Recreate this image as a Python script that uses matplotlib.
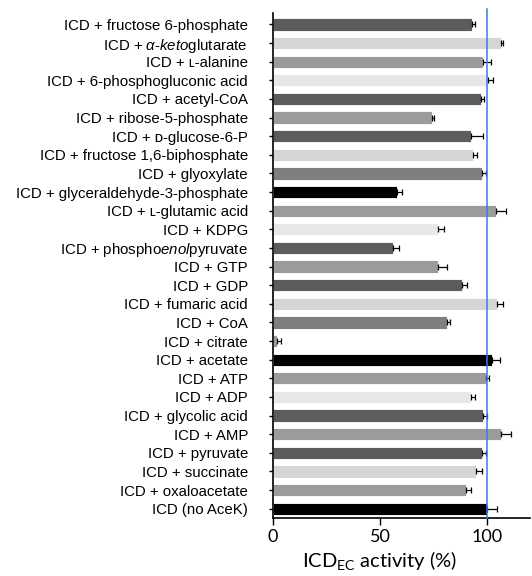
import matplotlib
matplotlib.use("Agg")
import matplotlib.pyplot as plt
import numpy as np

plt.rcParams['font.family'] = ['Liberation Sans', 'DejaVu Sans']
plt.rcParams['mathtext.fontset'] = 'custom'
plt.rcParams['mathtext.rm'] = 'Liberation Sans'
plt.rcParams['mathtext.it'] = 'Liberation Sans:italic'

labels = [
    "ICD + fructose 6-phosphate",
    r"ICD + $\alpha$-$\it{keto}$glutarate",
    "ICD + \u029F-alanine",
    "ICD + 6-phosphogluconic acid",
    "ICD + acetyl-CoA",
    "ICD + ribose-5-phosphate",
    "ICD + \u1D05-glucose-6-P",
    "ICD + fructose 1,6-biphosphate",
    "ICD + glyoxylate",
    "ICD + glyceraldehyde-3-phosphate",
    "ICD + \u029F-glutamic acid",
    "ICD + KDPG",
    r"ICD + phospho$\it{enol}$pyruvate",
    "ICD + GTP",
    "ICD + GDP",
    "ICD + fumaric acid",
    "ICD + CoA",
    "ICD + citrate",
    "ICD + acetate",
    "ICD + ATP",
    "ICD + ADP",
    "ICD + glycolic acid",
    "ICD + AMP",
    "ICD + pyruvate",
    "ICD + succinate",
    "ICD + oxaloacetate",
    "ICD (no AceK)",
]
values = [93.2, 106.4, 98.3, 100.5, 97.1, 74.3, 92.7, 93.5, 97.5, 58.0,
          104.3, 76.9, 56.0, 77.2, 88.5, 104.8, 81.2, 2.0, 102.5, 99.7,
          92.4, 98.1, 106.7, 97.8, 94.7, 90.4, 100.0]
errors = [1.0, 1.0, 3.7, 2.4, 1.5, 1.0, 5.4, 1.7, 1.9, 2.3,
          4.7, 2.9, 3.1, 4.3, 2.0, 2.6, 1.6, 2.0, 3.4, 1.0,
          1.9, 1.7, 4.6, 1.6, 3.1, 2.0, 4.5]

DARK, LIGHT, MED, VLIGHT, MDARK, BLACK = "#5c5c5c", "#d5d5d5", "#9b9b9b", "#e7e7e7", "#7f7f7f", "#000000"
colors = [DARK, LIGHT, MED, VLIGHT, DARK, MED, DARK, LIGHT, MDARK, BLACK,
          MED, VLIGHT, DARK, MED, DARK, LIGHT, MDARK, MED, BLACK, MED,
          VLIGHT, DARK, MED, DARK, LIGHT, MED, BLACK]

n = len(labels)
y = np.arange(n)[::-1]

fig = plt.figure(figsize=(5.32, 5.76), dpi=100)
ax = fig.add_axes([0.513, 0.1007, 0.483, 0.8763])

ax.barh(y, values, height=0.66, color=colors, edgecolor="white", linewidth=0.6, zorder=2)
ax.errorbar(values, y, xerr=[np.zeros(n), errors], fmt="none", ecolor="black",
            elinewidth=0.9, capsize=2.2, capthick=0.9, zorder=3)
ax.axvline(100, ymin=0, ymax=1.008, color="#3d78e6", lw=1.1, clip_on=False, zorder=4)

ax.set_xlim(0, 120)
ax.set_ylim(-0.5, 26.6)
ax.set_yticks(y)
ax.set_yticklabels(labels, fontsize=10.8)
ax.tick_params(axis="y", length=3, width=1, pad=15)
ax.set_xticks([0, 50, 100])
ax.tick_params(axis="x", length=5, width=1, labelsize=13, pad=3)
for t in ax.get_xticklabels():
    t.set_family(["Lato", "DejaVu Sans"])
ax.set_xlabel(r"ICD$_{\mathregular{EC}}$ activity (%)", fontsize=14.5, family=["Lato", "DejaVu Sans"])
ax.xaxis.set_label_coords(50 / 120, -0.062)

for s in ["top", "right"]:
    ax.spines[s].set_visible(False)
ax.spines["left"].set_linewidth(1.2)
ax.spines["bottom"].set_linewidth(1.2)

fig.savefig("out.png", dpi=100)
